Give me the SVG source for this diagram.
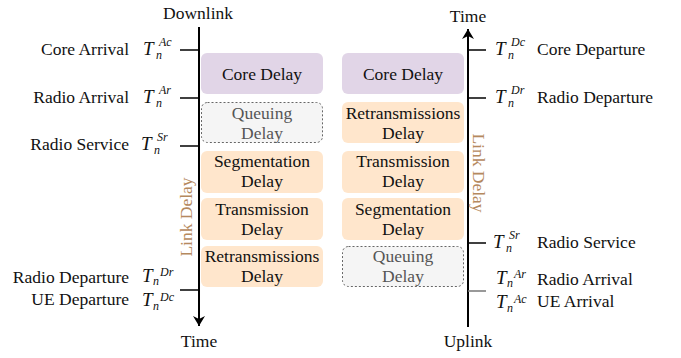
<svg xmlns="http://www.w3.org/2000/svg" width="681" height="358" viewBox="0 0 681 358">
<style>
text{font-family:"Liberation Serif","Times New Roman",serif;font-size:17.5px;fill:#111}
.m{font-style:italic;font-size:19px}
.s{font-size:12px}
.c{text-anchor:middle}
.e{text-anchor:end}
.q{fill:#555}
.ld{fill:#b5895e}
.core{fill:#e1d5e7}
.or{fill:#ffe6cc}
.qu{fill:#f5f5f5;stroke:#666;stroke-width:1;stroke-dasharray:2 2}
.ax{stroke:#000;stroke-width:2;fill:none}
.tk{stroke:#000;stroke-width:1.5}
</style>
<defs>
<marker id="ah" markerWidth="12" markerHeight="12" refX="10" refY="6" orient="auto" markerUnits="userSpaceOnUse">
<path d="M0,0 L10,6 L0,12 L3,6 Z" fill="#000"/>
</marker>
</defs>
<g id="connectors">
<line class="ax" x1="199" y1="27" x2="199" y2="326" marker-end="url(#ah)"/>
<line class="ax" x1="468" y1="327" x2="468" y2="29" marker-end="url(#ah)"/>
<line class="tk" x1="180" y1="50" x2="199" y2="50"/>
<line class="tk" x1="180" y1="98" x2="199" y2="98"/>
<line class="tk" x1="180" y1="146" x2="199" y2="146"/>
<line class="tk" x1="180" y1="290" x2="199" y2="290"/>
<line class="tk" x1="468" y1="50" x2="486" y2="50"/>
<line class="tk" x1="468" y1="98" x2="486" y2="98"/>
<line class="tk" x1="468" y1="243" x2="486" y2="243"/>
<line class="tk" x1="468" y1="291" x2="486" y2="291" style="stroke:#777"/>
</g>
<g id="axis-labels">
<text class="c" x="198" y="19">Downlink</text>
<text class="c" x="199" y="347">Time</text>
<text class="c" x="468" y="22">Time</text>
<text class="c" x="468" y="347">Uplink</text>
<text class="c ld" transform="translate(192,217) rotate(-90)">Link Delay</text>
<text class="c ld" transform="translate(473,173) rotate(90)">Link Delay</text>
</g>
<g id="dl-labels">
<text class="e" x="129" y="55">Core Arrival</text>
<text class="e" x="129" y="103">Radio Arrival</text>
<text class="e" x="129" y="150">Radio Service</text>
<text class="e" x="129" y="283">Radio Departure</text>
<text class="e" x="129" y="305">UE Departure</text>
<text class="m" x="143" y="55">T<tspan class="s" x="159" y="46">Ac</tspan><tspan class="s" x="156" y="59">n</tspan></text>
<text class="m" x="143" y="103">T<tspan class="s" x="159" y="94">Ar</tspan><tspan class="s" x="156" y="107">n</tspan></text>
<text class="m" x="141" y="150">T<tspan class="s" x="157" y="141">Sr</tspan><tspan class="s" x="154" y="154">n</tspan></text>
<text class="m" x="142" y="282">T<tspan class="s" x="160" y="276">Dr</tspan><tspan class="s" x="153" y="285">n</tspan></text>
<text class="m" x="142" y="306">T<tspan class="s" x="160" y="301">Dc</tspan><tspan class="s" x="153" y="310">n</tspan></text>
</g>
<g id="ul-labels">
<text x="537" y="55">Core Departure</text>
<text x="537" y="103">Radio Departure</text>
<text x="537" y="248">Radio Service</text>
<text x="537" y="285">Radio Arrival</text>
<text x="537" y="307">UE Arrival</text>
<text class="m" x="495" y="55">T<tspan class="s" x="511" y="46">Dc</tspan><tspan class="s" x="508" y="59">n</tspan></text>
<text class="m" x="495" y="103">T<tspan class="s" x="511" y="94">Dr</tspan><tspan class="s" x="508" y="107">n</tspan></text>
<text class="m" x="493" y="248">T<tspan class="s" x="509" y="239">Sr</tspan><tspan class="s" x="506" y="252">n</tspan></text>
<text class="m" x="496" y="284">T<tspan class="s" x="514" y="278">Ar</tspan><tspan class="s" x="507" y="287">n</tspan></text>
<text class="m" x="496" y="308">T<tspan class="s" x="514" y="303">Ac</tspan><tspan class="s" x="507" y="312">n</tspan></text>
</g>
<g id="dl-core"><rect class="core" x="201" y="53" width="122" height="41" rx="6"/><text class="c" x="262" y="80">Core Delay</text></g>
<g id="dl-queuing"><rect class="qu" x="201.5" y="102.5" width="121" height="40" rx="6"/><text class="c q" x="262" y="119">Queuing</text><text class="c q" x="262" y="139">Delay</text></g>
<g id="dl-segmentation"><rect class="or" x="201" y="151" width="122" height="42" rx="6"/><text class="c" x="262" y="167">Segmentation</text><text class="c" x="262" y="187">Delay</text></g>
<g id="dl-transmission"><rect class="or" x="201" y="198" width="122" height="42" rx="6"/><text class="c" x="262" y="215">Transmission</text><text class="c" x="262" y="235">Delay</text></g>
<g id="dl-retrans"><rect class="or" x="201" y="246" width="122" height="41" rx="6"/><text class="c" x="262" y="262">Retransmissions</text><text class="c" x="262" y="282">Delay</text></g>
<g id="ul-core"><rect class="core" x="342" y="53" width="122" height="41" rx="6"/><text class="c" x="403" y="80">Core Delay</text></g>
<g id="ul-retrans"><rect class="or" x="342" y="102" width="122" height="41" rx="6"/><text class="c" x="403" y="119">Retransmissions</text><text class="c" x="403" y="139">Delay</text></g>
<g id="ul-transmission"><rect class="or" x="342" y="151" width="122" height="42" rx="6"/><text class="c" x="403" y="167">Transmission</text><text class="c" x="403" y="187">Delay</text></g>
<g id="ul-segmentation"><rect class="or" x="342" y="198" width="122" height="42" rx="6"/><text class="c" x="403" y="215">Segmentation</text><text class="c" x="403" y="235">Delay</text></g>
<g id="ul-queuing"><rect class="qu" x="342.5" y="246.5" width="121" height="40" rx="6"/><text class="c q" x="403" y="262">Queuing</text><text class="c q" x="403" y="282">Delay</text></g>
</svg>
